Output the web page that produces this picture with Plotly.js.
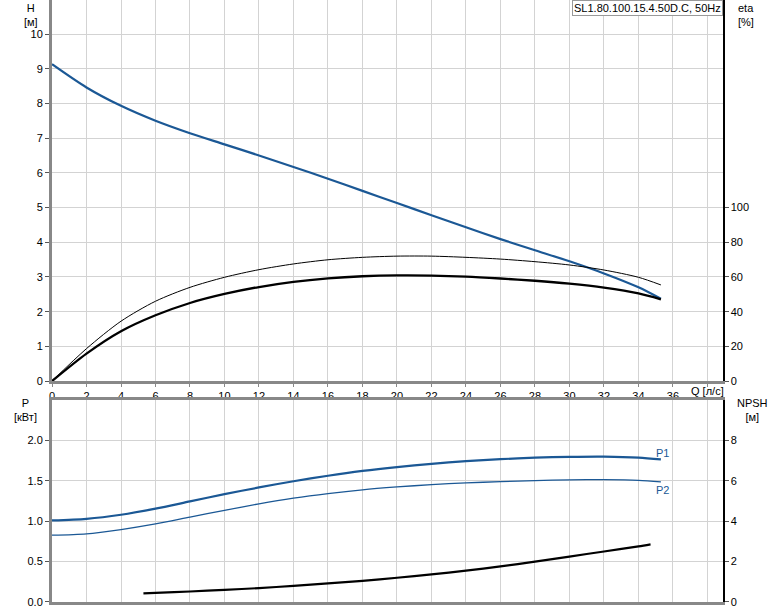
<!DOCTYPE html>
<html><head><meta charset="utf-8">
<script src="https://cdn.plot.ly/plotly-3.0.1.min.js"></script>
<style>html,body{margin:0;padding:0;background:#fff}#chart{width:774px;height:611px}</style>
</head><body><div id="chart"></div>
<script>
// Data
const qH = [0, 2, 4, 6, 8, 10, 12, 14, 16, 18, 20, 22, 24, 26, 28, 30, 32, 34, 35.3];
const head = [9.13, 8.46, 7.93, 7.5, 7.14, 6.82, 6.5, 6.17, 5.83, 5.48, 5.13, 4.78, 4.43, 4.09, 3.77, 3.45, 3.1, 2.7, 2.37];
const etaTotal = [0, 15.8, 28.7, 37.9, 45, 50.2, 54.2, 57.2, 59.2, 60.4, 60.9, 60.8, 60.2, 59.1, 57.8, 56.1, 53.8, 50.5, 47.1];
const etaHyd = [0, 18.7, 34.5, 46, 54, 59.8, 64.2, 67.5, 69.9, 71.3, 72.0, 72, 71.3, 70.3, 68.8, 66.9, 64, 59.8, 55.4];
const p1 = [1.01, 1.03, 1.08, 1.155, 1.245, 1.335, 1.418, 1.495, 1.563, 1.622, 1.67, 1.71, 1.743, 1.768, 1.786, 1.797, 1.8, 1.788, 1.765];
const p2 = [0.827, 0.844, 0.897, 0.967, 1.051, 1.135, 1.215, 1.285, 1.342, 1.389, 1.424, 1.453, 1.474, 1.49, 1.503, 1.512, 1.514, 1.506, 1.486];
const qNpsh = [5.3, 6, 8, 10, 12, 14, 16, 18, 20, 22, 24, 26, 28, 30, 32, 34, 34.7];
const npsh = [0.43, 0.45, 0.52, 0.6, 0.69, 0.8, 0.92, 1.05, 1.2, 1.37, 1.55, 1.76, 2.0, 2.25, 2.5, 2.75, 2.85];
const xTicks = [0, 2, 4, 6, 8, 10, 12, 14, 16, 18, 20, 22, 24, 26, 28, 30, 32, 34, 36, 38];
const xTickText = ['0','2','4','6','8','10','12','14','16','18','20','22','24','26','28','30','32','34','36',''];
const hTicks = [0,1,2,3,4,5,6,7,8,9,10];
const etaTicks = [0,20,40,60,80,100];
const pTicks = [0,0.5,1.0,1.5,2.0];
const npshTicks = [0,2,4,6,8];
const title = 'SL1.80.100.15.4.50D.C, 50Hz';

const blue = '#1b5895';
const font = {family: 'Liberation Sans, Arial, sans-serif', size: 11, color: '#000'};
const grid = '#d3d3d3';

const traces = [
  {x: qH, y: etaHyd, xaxis: 'x', yaxis: 'y2', mode: 'lines', line: {color: '#000', width: 1, shape: 'spline', smoothing: 0.8}},
  {x: qH, y: etaTotal, xaxis: 'x', yaxis: 'y2', mode: 'lines', line: {color: '#000', width: 2.3, shape: 'spline', smoothing: 0.8}},
  {x: qH, y: head, xaxis: 'x', yaxis: 'y', mode: 'lines', line: {color: blue, width: 2.2, shape: 'spline', smoothing: 0.8}},
  {x: qH, y: p2, xaxis: 'x2', yaxis: 'y3', mode: 'lines', line: {color: blue, width: 1.3, shape: 'spline', smoothing: 0.8}},
  {x: qH, y: p1, xaxis: 'x2', yaxis: 'y3', mode: 'lines', line: {color: blue, width: 2.2, shape: 'spline', smoothing: 0.8}},
  {x: qNpsh, y: npsh, xaxis: 'x2', yaxis: 'y4', mode: 'lines', line: {color: '#000', width: 2.2, shape: 'spline', smoothing: 0.8}}
];

const xRange = [0, 38.9];
const layout = {
  width: 774, height: 611,
  margin: {l: 52, r: 51, t: 0, b: 9},
  paper_bgcolor: '#fff', plot_bgcolor: '#fff',
  showlegend: false, font: font,
  xaxis: {domain: [0, 1], range: xRange, anchor: 'y', tickmode: 'array', tickvals: xTicks, ticktext: xTickText,
    showgrid: true, gridcolor: grid, gridwidth: 1, zeroline: false, showline: true, linecolor: '#888', linewidth: 3,
    ticks: 'outside', ticklen: 3, tickcolor: '#888', tickfont: font},
  yaxis: {domain: [0.367, 1], range: [0, 10.98], anchor: 'x', tickmode: 'array', tickvals: hTicks,
    showgrid: true, gridcolor: grid, zeroline: false, showline: true, linecolor: '#888', linewidth: 3,
    ticks: 'outside', ticklen: 4, tickcolor: '#555', tickfont: font},
  yaxis2: {overlaying: 'y', side: 'right', anchor: 'x', range: [0, 219.6], tickmode: 'array', tickvals: etaTicks,
    showgrid: false, zeroline: false, showline: true, linecolor: '#000', linewidth: 1.5,
    ticks: 'outside', ticklen: 4, tickcolor: '#555', tickfont: font},
  xaxis2: {domain: [0, 1], range: xRange, anchor: 'y3', tickmode: 'array', tickvals: xTicks, showticklabels: false,
    showgrid: true, gridcolor: grid, zeroline: false, showline: true, mirror: true, linecolor: '#888', linewidth: 3, ticks: ''},
  yaxis3: {domain: [0, 0.3355], range: [0, 2.5], anchor: 'x2', tickmode: 'array', tickvals: pTicks, tickformat: '.1f',
    showgrid: true, gridcolor: grid, zeroline: false, showline: true, linecolor: '#888', linewidth: 3,
    ticks: 'outside', ticklen: 4, tickcolor: '#555', tickfont: font},
  yaxis4: {overlaying: 'y3', side: 'right', anchor: 'x2', range: [0, 10], tickmode: 'array', tickvals: npshTicks,
    showgrid: false, zeroline: false, showline: true, linecolor: '#000', linewidth: 1.5,
    ticks: 'outside', ticklen: 4, tickcolor: '#555', tickfont: font},
  annotations: [
    {xref: 'paper', yref: 'paper', x: -0.032, y: 1, yanchor: 'top', xanchor: 'center', text: 'H<br>[м]', showarrow: false, font: font, align: 'center'},
    {xref: 'paper', yref: 'paper', x: 1.02, y: 1, yanchor: 'top', xanchor: 'left', text: 'eta<br>[%]', showarrow: false, font: font, align: 'left'},
    {xref: 'paper', yref: 'paper', x: -0.04, y: 0.344, yanchor: 'top', xanchor: 'center', text: 'P<br>[кВт]', showarrow: false, font: font, align: 'center'},
    {xref: 'paper', yref: 'paper', x: 1.018, y: 0.344, yanchor: 'top', xanchor: 'left', text: 'NPSH<br>[м]', showarrow: false, font: font, align: 'center'},
    {xref: 'paper', yref: 'paper', x: 0.949, y: 0.367, yanchor: 'top', xanchor: 'left', yshift: -2, text: 'Q [л/с]', showarrow: false, font: font},
    {xref: 'paper', yref: 'paper', x: 1, y: 1, xanchor: 'right', yanchor: 'top', text: title, showarrow: false,
      font: font, bgcolor: '#fff', bordercolor: '#999', borderwidth: 1, borderpad: 1},
    {xref: 'x2', yref: 'y3', x: 34.9, y: p1[p1.length-1], xanchor: 'left', yanchor: 'bottom', yshift: -2, text: 'P1', showarrow: false, font: {family: font.family, size: 11, color: blue}},
    {xref: 'x2', yref: 'y3', x: 34.9, y: p2[p2.length-1], xanchor: 'left', yanchor: 'top', text: 'P2', showarrow: false, font: {family: font.family, size: 11, color: blue}}
  ]
};
Plotly.newPlot('chart', traces, layout, {displayModeBar: false, staticPlot: true});
</script></body></html>
